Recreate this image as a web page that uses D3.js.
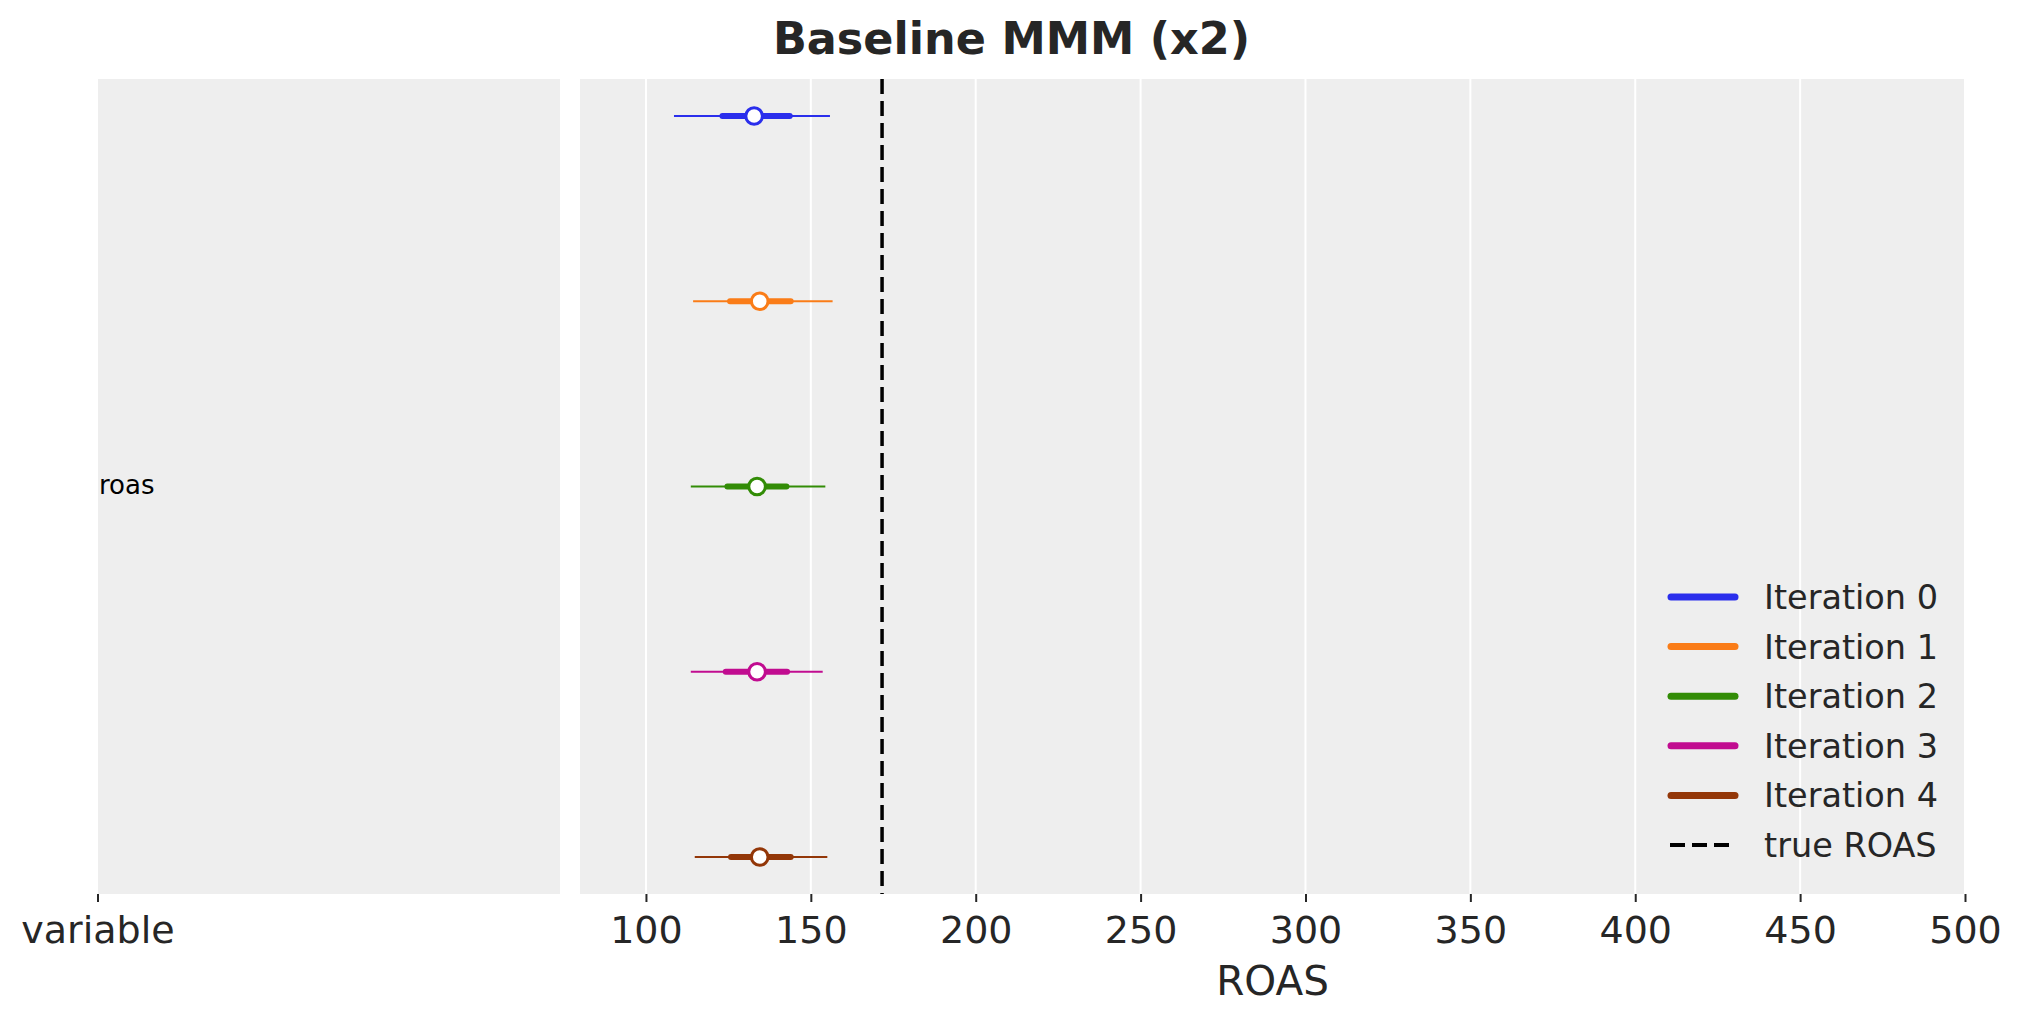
<!DOCTYPE html>
<html>
<head>
<meta charset="utf-8">
<script src="https://cdn.jsdelivr.net/npm/d3@7"></script>
<style>
  body { margin: 0; background: #fff; }
  text { font-family: "DejaVu Sans", sans-serif; }
</style>
</head>
<body>
<div id="main"></div>
<script>
// values
var iterations = ["Iteration 0", "Iteration 1", "Iteration 2", "Iteration 3", "Iteration 4"];
var medians    = [132.8, 134.5, 133.7, 133.7, 134.5];
var hdiLow     = [108.5, 114.3, 113.6, 113.6, 114.8];
var hdiHigh    = [155.8, 156.6, 154.4, 153.6, 155.0];
var iqrLow     = [123.2, 125.5, 124.7, 124.2, 125.8];
var iqrHigh    = [143.6, 143.9, 142.6, 142.8, 143.9];
var colors     = ["#2a2eec", "#fa7c17", "#328c06", "#c10c90", "#933708"];
var trueRoas   = 171.6;
var xTicks     = [100, 150, 200, 250, 300, 350, 400, 450, 500];
var xDomain    = [80, 500];

var width = 2023, height = 1023;
var panelTop = 79, panelBottom = 894;
var left = {x0: 98, x1: 560},
    right = {x0: 580, x1: 1965};

var svg = d3.select("#main").append("svg")
    .attr("width", width)
    .attr("height", height);

// left (label) panel
svg.append("rect")
    .attr("x", left.x0).attr("y", panelTop)
    .attr("width", left.x1 - left.x0).attr("height", panelBottom - panelTop)
    .attr("fill", "#eeeeee");

svg.append("text")
    .attr("x", left.x0 + 1).attr("y", (panelTop + panelBottom) / 2 + 7)
    .attr("font-size", 26).attr("fill", "#000")
    .text("roas");

svg.append("line")
    .attr("x1", left.x0).attr("x2", left.x0)
    .attr("y1", panelBottom).attr("y2", panelBottom + 8)
    .attr("stroke", "#262626").attr("stroke-width", 2);

svg.append("text")
    .attr("x", left.x0).attr("y", 943)
    .attr("text-anchor", "middle")
    .attr("font-size", 38).attr("fill", "#262626")
    .text("variable");

// right (ROAS) panel
var x = d3.scaleLinear().domain(xDomain).range([right.x0, right.x1]);
var y = d3.scalePoint().domain(iterations).range([panelTop, panelBottom]).padding(0.2);

svg.append("rect")
    .attr("x", right.x0).attr("y", panelTop)
    .attr("width", right.x1 - right.x0).attr("height", panelBottom - panelTop)
    .attr("fill", "#eeeeee");

svg.append("g")
    .selectAll("line").data(xTicks)
    .enter().append("line")
    .attr("x1", d => x(d)).attr("x2", d => x(d))
    .attr("y1", panelTop).attr("y2", panelBottom)
    .attr("stroke", "#fff").attr("stroke-width", 2);

var xAxis = svg.append("g")
    .attr("transform", "translate(0," + panelBottom + ")")
    .call(d3.axisBottom(x).tickValues(xTicks).tickSize(8).tickPadding(14));
xAxis.select(".domain").remove();
xAxis.selectAll(".tick line").attr("stroke", "#262626").attr("stroke-width", 2);
xAxis.selectAll(".tick text")
    .attr("font-size", 38).attr("fill", "#262626")
    .attr("font-family", "DejaVu Sans, sans-serif");

svg.append("text")
    .attr("x", (right.x0 + right.x1) / 2).attr("y", 995)
    .attr("text-anchor", "middle")
    .attr("font-size", 40.5).attr("fill", "#262626")
    .text("ROAS");

// true ROAS reference line
svg.append("line")
    .attr("x1", x(trueRoas)).attr("x2", x(trueRoas))
    .attr("y1", panelTop).attr("y2", panelBottom)
    .attr("stroke", "#000").attr("stroke-width", 3.5)
    .attr("stroke-dasharray", "15,7");

// intervals
var rows = svg.append("g").selectAll("g").data(iterations)
    .enter().append("g");

rows.append("line")
    .attr("x1", (d, i) => x(hdiLow[i])).attr("x2", (d, i) => x(hdiHigh[i]))
    .attr("y1", d => y(d)).attr("y2", d => y(d))
    .attr("stroke", (d, i) => colors[i]).attr("stroke-width", 2);

rows.append("line")
    .attr("x1", (d, i) => x(iqrLow[i])).attr("x2", (d, i) => x(iqrHigh[i]))
    .attr("y1", d => y(d)).attr("y2", d => y(d))
    .attr("stroke", (d, i) => colors[i]).attr("stroke-width", 6)
    .attr("stroke-linecap", "round");

rows.append("circle")
    .attr("cx", (d, i) => x(medians[i])).attr("cy", d => y(d))
    .attr("r", 8.3)
    .attr("fill", "#fff")
    .attr("stroke", (d, i) => colors[i]).attr("stroke-width", 3);

// legend
var legendItems = iterations.map((d, i) => ({label: d, color: colors[i], dash: null}))
    .concat([{label: "true ROAS", color: "#000", dash: "15,7"}]);

var legend = svg.append("g").attr("transform", "translate(1667,597)");
var li = legend.selectAll("g").data(legendItems)
    .enter().append("g")
    .attr("transform", (d, i) => "translate(0," + i * 49.6 + ")");

li.append("line")
    .attr("x1", d => d.dash ? 3 : 4).attr("x2", d => d.dash ? 62 : 68)
    .attr("y1", 0).attr("y2", 0)
    .attr("stroke", d => d.color)
    .attr("stroke-width", d => d.dash ? 4 : 7)
    .attr("stroke-linecap", d => d.dash ? "butt" : "round")
    .attr("stroke-dasharray", d => d.dash);

li.append("text")
    .attr("x", 97).attr("y", 12)
    .attr("font-size", 33.5).attr("fill", "#262626")
    .text(d => d.label);

// title
svg.append("text")
    .attr("x", width / 2).attr("y", 54)
    .attr("text-anchor", "middle")
    .attr("font-size", 44.5).attr("font-weight", "bold").attr("fill", "#262626")
    .text("Baseline MMM (x2)");
</script>
</body>
</html>
